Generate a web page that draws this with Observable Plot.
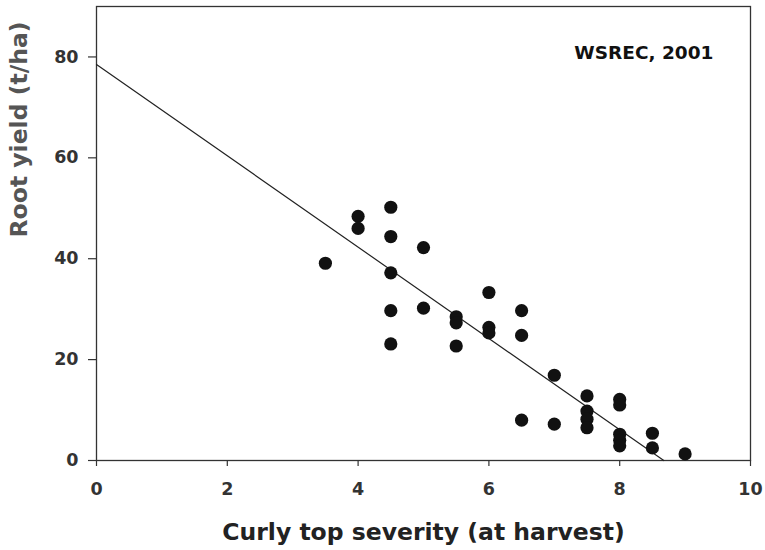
<!DOCTYPE html>
<html>
<head>
<meta charset="utf-8">
<script src="https://cdn.jsdelivr.net/npm/d3@7"></script>
<script src="https://cdn.jsdelivr.net/npm/@observablehq/plot@0.6"></script>
<style>
  html, body { margin: 0; padding: 0; background: #fff; }
  #chart { width: 765px; height: 550px; }
</style>
</head>
<body>
<div id="chart"></div>
<script>
// Curly top severity score at harvest, one entry per plot
const severity = [
  3.5,
  4.0, 4.0,
  4.5, 4.5, 4.5, 4.5, 4.5,
  5.0, 5.0,
  5.5, 5.5, 5.5,
  6.0, 6.0, 6.0,
  6.5, 6.5, 6.5,
  7.0, 7.0,
  7.5, 7.5, 7.5, 7.5,
  8.0, 8.0, 8.0, 8.0, 8.0,
  8.5, 8.5,
  9.0
];
// Root yield (t/ha) for the same plots
const rootYield = [
  39.1,
  48.4, 46.0,
  50.2, 44.4, 37.2, 29.7, 23.1,
  42.2, 30.2,
  28.5, 27.3, 22.7,
  33.3, 26.4, 25.3,
  29.7, 24.8, 8.0,
  16.9, 7.2,
  12.8, 9.8, 8.2, 6.5,
  12.1, 11.0, 5.2, 4.0, 2.9,
  5.4, 2.5,
  1.3
];
// Fitted regression: yield = intercept + slope * severity
const fitIntercept = 78.5;
const fitSlope = -9.05;

const xTicks = [0, 2, 4, 6, 8, 10];
const yTicks = [0, 20, 40, 60, 80];
const xTitle = "Curly top severity (at harvest)";
const yTitle = "Root yield (t/ha)";
const siteNote = "WSREC, 2001";

const points = severity.map((s, i) => ({severity: s, yield: rootYield[i]}));
// Regression line runs from the y-intercept down to where predicted yield reaches zero
const fitLine = [
  {severity: 0, yield: fitIntercept},
  {severity: -fitIntercept / fitSlope, yield: 0}
];

const chart = Plot.plot({
  width: 765,
  height: 550,
  marginLeft: 96,
  marginRight: 15,
  marginTop: 6,
  marginBottom: 90,
  style: {fontFamily: "DejaVu Sans", background: "#fff", color: "#222"},
  x: {domain: [0, 10]},
  y: {domain: [0, 90]},
  marks: [
    Plot.axisX({
      ticks: xTicks, tickSize: 6, tickPadding: 16, label: null,
      fontSize: 17.5, fontWeight: "bold", fill: "#333", stroke: "#333", strokeWidth: 1.2
    }),
    Plot.axisY({
      ticks: yTicks, tickSize: 8, tickPadding: 10, label: null,
      fontSize: 17.5, fontWeight: "bold", fill: "#333", stroke: "#333", strokeWidth: 1.2
    }),
    Plot.frame({stroke: "#333", strokeWidth: 1.3}),
    Plot.line(fitLine, {x: "severity", y: "yield", stroke: "#222", strokeWidth: 1.2}),
    Plot.dot(points, {x: "severity", y: "yield", r: 6.6, fill: "#111", stroke: "none"}),
    Plot.text([siteNote], {
      frameAnchor: "top-right", textAnchor: "end", lineAnchor: "middle",
      dx: -37, dy: 47, fontSize: 18.5, fontWeight: "bold", fill: "#111"
    }),
    Plot.text([xTitle], {
      frameAnchor: "bottom", lineAnchor: "middle", dy: 72,
      fontSize: 23.5, fontWeight: "bold", fill: "#222"
    }),
    Plot.text([yTitle], {
      frameAnchor: "left", lineAnchor: "middle", rotate: -90, dx: -77, dy: 4,
      fontSize: 23.5, fontWeight: "bold", fill: "#555"
    })
  ]
});

document.getElementById("chart").appendChild(chart);
</script>
</body>
</html>
